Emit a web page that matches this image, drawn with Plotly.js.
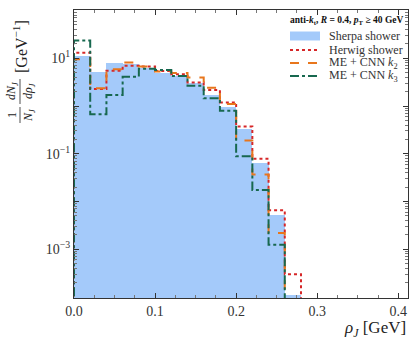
<!DOCTYPE html>
<html><head><meta charset="utf-8">
<script src="https://cdn.plot.ly/plotly-3.0.1.min.js"></script>
<style>html,body{margin:0;padding:0;background:#fff}</style>
</head><body><div id="chart" style="width:415px;height:342px"></div>
<script>
// bin edges of rho_J [GeV]
const binEdges = [0.00,0.02,0.04,0.06,0.08,0.10,0.12,0.14,0.16,0.18,0.20,0.22,0.24,0.26,0.28];
// normalized distributions (1/N dN/drho) per bin
const sherpa = [11.3, 5.2, 7.85, 7.5, 6.3, 5.0, 4.2, 3.0, 1.7, 0.97, 0.33, 0.065, 0.0052, 0.00011];
const herwig = [13.1, 2.27, 5.5, 7.0, 6.7, 5.4, 4.6, 3.1, 2.16, 1.19, 0.37, 0.0785, 0.0066, 0.0003];
const cnnK2  = [9.5, 2.35, 5.9, 8.1, 6.7, 5.3, 4.9, 3.95, 2.4, 1.10, 0.19, 0.037, 0.0022, 0];
const cnnK3  = [23.4, 0.67, 1.7, 4.1, 6.0, 5.7, 4.25, 2.67, 1.45, 0.80, 0.089, 0.0174, 0.00125, 0];
const seriesNames = ['Sherpa shower','Herwig shower','ME + CNN <i>k</i><sub>2</sub>','ME + CNN <i>k</i><sub>3</sub>'];
const legendTitle = '<b>anti-<i>k</i><sub>t</sub>, <i>R</i> = 0.4, <i>p</i><sub>T</sub> ≥ 40 GeV</b>';

const FLOOR = 1e-7;
function stepXY(vals){
  const x=[binEdges[0]], y=[FLOOR];
  vals.forEach((v,i)=>{ x.push(binEdges[i]); y.push(v>0?v:FLOOR); });
  const last = binEdges[binEdges.length-1];
  x.push(last); y.push(vals[vals.length-1]>0?vals[vals.length-1]:FLOOR);
  x.push(last); y.push(FLOOR);
  return {x,y};
}
const centers = sherpa.map((_,i)=>(binEdges[i]+binEdges[i+1])/2);
const widths = sherpa.map((_,i)=>binEdges[i+1]-binEdges[i]);

const serif = 'Liberation Serif, DejaVu Serif, serif';
const fillColor = '#a4cafa';
const styles = [
  {color:'#d62728', dash:'dot'},
  {color:'#e8761c', dash:'dash'},
  {color:'#17684f', dash:'dashdot'}
];
const traces = [
  {type:'bar', x:centers, y:sherpa, width:widths, name:seriesNames[0],
   marker:{color:fillColor, line:{width:0}}},
];
[herwig, cnnK2, cnnK3].forEach((vals,k)=>{
  const s = stepXY(vals);
  traces.push({type:'scatter', mode:'lines', x:s.x, y:s.y, name:seriesNames[k+1],
    line:{shape:'hv', width:2, color:styles[k].color, dash:styles[k].dash}});
});

const decades = [1e-4,1e-3,1e-2,1e-1,1,10,100];
const decadeText = ['', '10<sup>−3</sup>', '', '10<sup>−1</sup>', '', '10<sup>1</sup>', ''];

// plot-area pixel helpers for legend / label placement (paper coords)
const L=74, R=408, T=10, B=298;
const px = p => (p-L)/(R-L);
const py = p => (B-p)/(B-T);

const shapes = [];
const annotations = [];
// custom legend
annotations.push({xref:'paper', yref:'paper', x:px(405), y:py(21), xanchor:'right', yanchor:'middle',
  showarrow:false, text:legendTitle, font:{family:serif, size:9.5, color:'#111'}});
const rowY = [36, 50, 63, 76];
shapes.push({type:'rect', xref:'paper', yref:'paper', x0:px(290), x1:px(320), y0:py(40.5), y1:py(31.5),
  fillcolor:fillColor, line:{width:0}});
styles.forEach((s,k)=>{
  shapes.push({type:'line', xref:'paper', yref:'paper', x0:px(290), x1:px(320), y0:py(rowY[k+1]), y1:py(rowY[k+1]),
    line:{color:s.color, width:2, dash:s.dash}});
});
seriesNames.forEach((n,k)=>{
  annotations.push({xref:'paper', yref:'paper', x:px(327), y:py(rowY[k]), xanchor:'left', yanchor:'middle',
    showarrow:false, text:n, font:{family:serif, size:12, color:'#333'}});
});
// axis titles
annotations.push({xref:'paper', yref:'paper', x:1, y:py(329), xanchor:'right', yanchor:'middle', showarrow:false,
  text:'<i>ρ</i><sub><i>J</i></sub> [GeV]', font:{family:serif, size:17, color:'#222'}});
const rot = (x,y,t,sz)=>({xref:'paper', yref:'paper', x:px(x), y:py(y), xanchor:'center', yanchor:'middle',
  showarrow:false, textangle:-90, text:t, font:{family:serif, size:sz, color:'#222'}});
annotations.push(rot(20, 47, '[GeV<sup>−1</sup>]', 16));
annotations.push(rot(12, 91, '<i>dN</i><sub><i>J</i></sub>', 12));
annotations.push(rot(29, 91, '<i>dρ</i><sub><i>J</i></sub>', 12));
annotations.push(rot(12, 115, '1', 12));
annotations.push(rot(29, 115, '<i>N</i><sub><i>J</i></sub>', 12));
shapes.push({type:'line', xref:'paper', yref:'paper', x0:px(20), x1:px(20), y0:py(79), y1:py(104), line:{color:'#222', width:0.8}});
shapes.push({type:'line', xref:'paper', yref:'paper', x0:px(20), x1:px(20), y0:py(107), y1:py(123), line:{color:'#222', width:0.8}});

const layout = {
  width:415, height:342,
  margin:{l:L, r:415-R, t:T, b:342-B},
  paper_bgcolor:'#fff', plot_bgcolor:'#fff',
  font:{family:serif, color:'#222', size:14},
  barmode:'overlay', bargap:0,
  showlegend:false,
  xaxis:{range:[0,0.412], showgrid:false, zeroline:false, showline:true, linecolor:'#333', linewidth:1,
    mirror:'allticks', ticks:'inside', ticklen:5, tickcolor:'#333',
    tickvals:[0,0.1,0.2,0.3,0.4], ticktext:['0.0','0.1','0.2','0.3','0.4'],
    tickfont:{family:serif, size:14, color:'#333'},
    minor:{dtick:0.025, tick0:0, ticks:'inside', ticklen:3, tickcolor:'#777', showgrid:false}},
  yaxis:{type:'log', range:[-4.02,2.01], showgrid:false, zeroline:false, showline:true, linecolor:'#333', linewidth:1,
    mirror:'allticks', ticks:'inside', ticklen:5, tickcolor:'#333',
    tickmode:'array', tickvals:decades, ticktext:decadeText,
    tickfont:{family:serif, size:14, color:'#333'},
    minor:{dtick:'D1', ticks:'inside', ticklen:3, tickcolor:'#777', showgrid:false}},
  shapes:shapes,
  annotations:annotations
};
Plotly.newPlot('chart', traces, layout, {displayModeBar:false, staticPlot:true});
</script></body></html>
